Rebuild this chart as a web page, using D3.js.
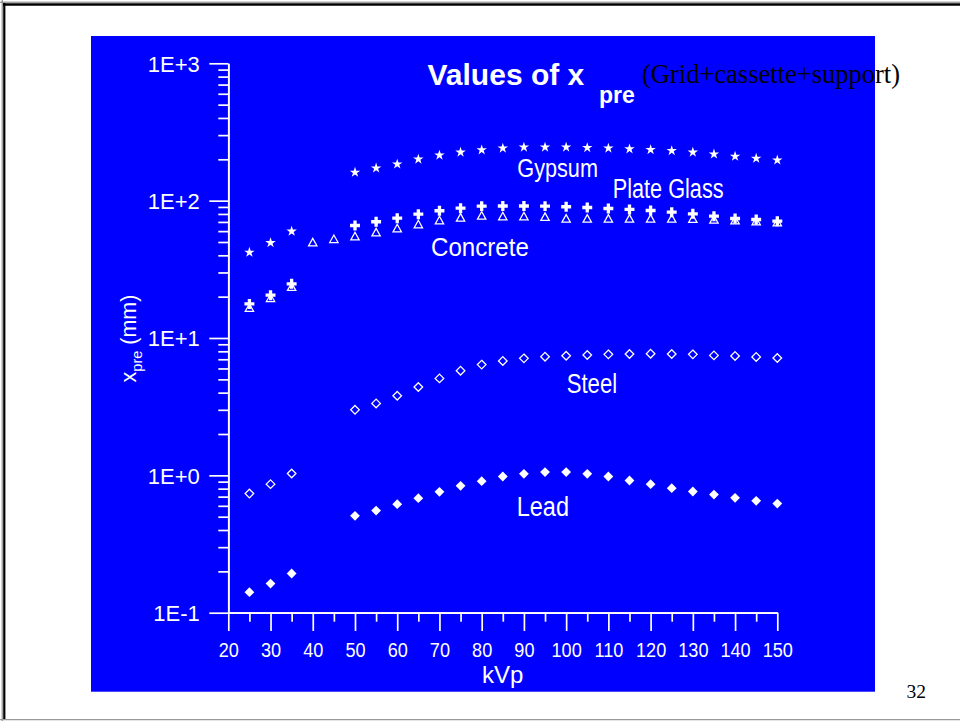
<!DOCTYPE html>
<html>
<head>
<meta charset="utf-8">
<script src="https://cdn.jsdelivr.net/npm/d3@7"></script>
<style>
  html, body { margin: 0; padding: 0; background: #fff; }
  svg { display: block; }
</style>
</head>
<body>
<svg id="chart" width="960" height="721"></svg>
<script>
// ---------------- data ----------------
const kvpGap = [25, 30, 35, 50, 55, 60, 65, 70, 75, 80, 85, 90, 95, 100, 105, 110, 115, 120, 125, 130, 135, 140, 145, 150];
const kvpAll = [25, 30, 35, 40, 45, 50, 55, 60, 65, 70, 75, 80, 85, 90, 95, 100, 105, 110, 115, 120, 125, 130, 135, 140, 145, 150];

const gypsum     = [42.4, 49.8, 60.3, 162, 174, 186, 202, 216, 227, 236, 243, 247, 247, 247, 245, 243, 240, 237, 233, 227, 220, 212, 205, 199];
const plateGlass = [17.7, 20.5, 24.8, 65.9, 70.2, 74.5, 79.7, 84.4, 88.1, 91.2, 91.4, 91.4, 91.2, 90.3, 89.2, 87.7, 86.3, 84.8, 82.4, 80.2, 77.1, 74.1, 72.9, 70.9];
const concrete   = [16.6, 19.6, 23.6, 49.8, 52.7, 55.1, 58.9, 63.0, 67.4, 72.1, 75.4, 78.0, 77.1, 77.1, 76.3, 74.1, 74.1, 74.1, 74.1, 74.1, 74.1, 73.8, 72.9, 72.1, 70.9, 69.7];
const steel      = [0.737, 0.863, 1.031, 3.00, 3.34, 3.80, 4.40, 5.08, 5.78, 6.40, 6.81, 7.11, 7.31, 7.43, 7.52, 7.60, 7.65, 7.69, 7.65, 7.60, 7.47, 7.40, 7.28, 7.15];
const lead       = [0.141, 0.163, 0.193, 0.507, 0.554, 0.617, 0.682, 0.759, 0.839, 0.907, 0.981, 1.026, 1.056, 1.056, 1.026, 0.981, 0.917, 0.863, 0.807, 0.763, 0.725, 0.686, 0.652, 0.623];

const xTicks = [20, 30, 40, 50, 60, 70, 80, 90, 100, 110, 120, 130, 140, 150];
const xMinorTicks = [25, 35, 45, 55, 65, 75, 85, 95, 105, 115, 125, 135, 145];
const yTicks = [0.1, 1, 10, 100, 1000];
const yTickLabels = ["1E-1", "1E+0", "1E+1", "1E+2", "1E+3"];
const yMinorMultipliers = [2, 3, 4, 5, 6, 7, 8, 9];

const titleMain = "Values of x";
const titleSub = "pre";
const titleNote = "(Grid+cassette+support)";
const xTitle = "kVp";
const pageNumber = "32";

// ---------------- layout ----------------
const svg = d3.select("#chart");
const SANS = "'Liberation Sans', Arial, Helvetica, sans-serif";
const SERIF = "'Liberation Serif', 'Times New Roman', serif";

svg.append("rect").attr("x", 0).attr("y", 0).attr("width", 960).attr("height", 721).attr("fill", "#fff");

// slide frame
svg.append("line").attr("x1", 0).attr("x2", 960).attr("y1", 2.2).attr("y2", 2.2).attr("stroke", "#777").attr("stroke-width", 1);
svg.append("line").attr("x1", 2.2).attr("x2", 2.2).attr("y1", 0).attr("y2", 721).attr("stroke", "#777").attr("stroke-width", 1);
svg.append("line").attr("x1", 3).attr("x2", 960).attr("y1", 4.5).attr("y2", 4.5).attr("stroke", "#000").attr("stroke-width", 2.4);
svg.append("line").attr("x1", 4.3).attr("x2", 4.3).attr("y1", 3).attr("y2", 719).attr("stroke", "#000").attr("stroke-width", 2.2);
svg.append("line").attr("x1", 0).attr("x2", 960).attr("y1", 719.6).attr("y2", 719.6).attr("stroke", "#999").attr("stroke-width", 1.4);

// blue panel
svg.append("rect").attr("x", 91).attr("y", 36).attr("width", 784).attr("height", 655.7).attr("fill", "#0000FF");

const x = d3.scaleLinear().domain([20, 150]).range([228.3, 777.3]);
const y = d3.scaleLog().domain([0.1, 1000]).range([612.7, 63.3]);

const yMinor = [];
yTicks.slice(0, -1).forEach(d => yMinorMultipliers.forEach(m => yMinor.push(d * m)));

// axes
const axisStroke = 1.7;
const gY = svg.append("g").attr("transform", `translate(${x(20)},0)`).attr("color", "#fff");
gY.call(d3.axisLeft(y).tickValues(yMinor).tickSize(10).tickSizeOuter(0).tickFormat(""));
const gY2 = svg.append("g").attr("transform", `translate(${x(20)},0)`).attr("color", "#fff");
gY2.call(d3.axisLeft(y).tickValues(yTicks).tickSize(19).tickSizeOuter(0).tickPadding(9.5)
  .tickFormat((d, i) => yTickLabels[i]));
gY2.selectAll("text").attr("font-family", SANS).attr("font-size", 22).attr("fill", "#fff").attr("dy", "0.36em");

const gX = svg.append("g").attr("transform", `translate(0,${y(0.1)})`).attr("color", "#fff");
gX.call(d3.axisBottom(x).tickValues(xMinorTicks).tickSize(9).tickSizeOuter(0).tickFormat(""));
const gX2 = svg.append("g").attr("transform", `translate(0,${y(0.1)})`).attr("color", "#fff");
gX2.call(d3.axisBottom(x).tickValues(xTicks).tickSize(18.3).tickSizeOuter(0).tickPadding(12).tickFormat(d3.format("d")));
gX2.selectAll("text").attr("font-family", SANS).attr("font-size", 19.5).attr("fill", "#fff")
  .attr("transform", "scale(0.93,1)");

svg.selectAll(".domain").attr("stroke-width", axisStroke);
svg.selectAll(".tick line").attr("stroke-width", axisStroke);

// axis titles
svg.append("text").attr("x", x(85)).attr("y", 683.3).attr("text-anchor", "middle")
  .attr("font-family", SANS).attr("font-size", 24).attr("fill", "#fff").text(xTitle);

const yt = svg.append("text")
  .attr("transform", "translate(136,338.5) rotate(-90)")
  .attr("text-anchor", "middle").attr("font-family", SANS).attr("font-size", 21.5).attr("fill", "#fff");
yt.append("tspan").text("x");
yt.append("tspan").attr("font-size", 14.5).attr("dy", 6).text("pre");
yt.append("tspan").attr("dy", -6).text(" (mm)");

// title
svg.append("text").attr("x", 427.5).attr("y", 85).attr("font-family", SANS).attr("font-weight", "bold")
  .attr("font-size", 30).attr("fill", "#fff").text(titleMain);
svg.append("text").attr("x", 599).attr("y", 103).attr("font-family", SANS).attr("font-weight", "bold")
  .attr("font-size", 23).attr("fill", "#fff").text(titleSub);
svg.append("text").attr("x", 642).attr("y", 82.5).attr("font-family", SERIF)
  .attr("font-size", 26.5).attr("fill", "#000").text(titleNote);

// page number
svg.append("text").attr("x", 906.5).attr("y", 698.3).attr("font-family", SERIF)
  .attr("font-size", 19.5).attr("fill", "#000").text(pageNumber);

// ---------------- markers ----------------
const plot = svg.append("g");
const pts = (xs, vs) => xs.map((k, i) => ({ k, v: vs[i] }));

// concrete: open triangles
plot.append("g").selectAll("path").data(pts(kvpAll, concrete)).join("path")
  .attr("transform", d => `translate(${x(d.k)},${y(d.v)})`)
  .attr("d", "M0,-3.9L4.2,3.7L-4.2,3.7Z")
  .attr("fill", "#0000FF").attr("stroke", "#fff").attr("stroke-width", 1.25);

// plate glass: bold crosses
plot.append("g").selectAll("path").data(pts(kvpGap, plateGlass)).join("path")
  .attr("transform", d => `translate(${x(d.k)},${y(d.v)})`)
  .attr("d", d3.symbol(d3.symbolCross, 55)())
  .attr("fill", "#fff");

// gypsum: stars
plot.append("g").selectAll("path").data(pts(kvpGap, gypsum)).join("path")
  .attr("transform", d => `translate(${x(d.k)},${y(d.v) + 0.5})`)
  .attr("d", d3.symbol(d3.symbolStar, 34)())
  .attr("fill", "#fff");

// steel: open diamonds
plot.append("g").selectAll("path").data(pts(kvpGap, steel)).join("path")
  .attr("transform", d => `translate(${x(d.k)},${y(d.v)})`)
  .attr("d", "M0,-4.3L4.3,0L0,4.3L-4.3,0Z")
  .attr("fill", "none").attr("stroke", "#fff").attr("stroke-width", 1.3);

// lead: filled diamonds
plot.append("g").selectAll("path").data(pts(kvpGap, lead)).join("path")
  .attr("transform", d => `translate(${x(d.k)},${y(d.v)})`)
  .attr("d", "M0,-4.9L4.9,0L0,4.9L-4.9,0Z")
  .attr("fill", "#fff");

// ---------------- series labels ----------------
const labels = [
  { text: "Gypsum",      lx: 517.3, ly: 176.5, size: 25.5, sx: 0.85 },
  { text: "Plate Glass", lx: 612.7, ly: 198.3, size: 28,   sx: 0.775 },
  { text: "Concrete",    lx: 431,   ly: 256,   size: 25,   sx: 0.965 },
  { text: "Steel",       lx: 566.7, ly: 392.7, size: 27,   sx: 0.82 },
  { text: "Lead",        lx: 516.7, ly: 516,   size: 27,   sx: 0.87 }
];
svg.append("g").selectAll("text").data(labels).join("text")
  .attr("transform", d => `translate(${d.lx},${d.ly}) scale(${d.sx},1)`)
  .attr("font-family", SANS).attr("font-size", d => d.size).attr("fill", "#fff")
  .text(d => d.text);
</script>
</body>
</html>
